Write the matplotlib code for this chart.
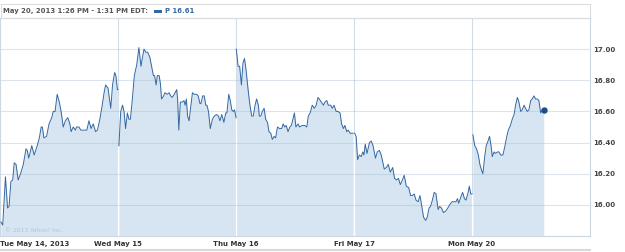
import matplotlib
matplotlib.use('Agg')
import matplotlib.pyplot as plt
from matplotlib.patches import Rectangle
from matplotlib.lines import Line2D
from matplotlib.transforms import ScaledTranslation
import numpy as np

# minutes after the 9:30 open, and price, for each trading day
tue_minutes = [3, 9, 18, 25, 30, 36, 42, 47, 53, 60, 68, 77, 86, 90, 95, 105, 113, 123, 130, 136,
               140, 145, 154, 162, 171, 176, 182, 189, 196, 202, 209, 216, 224, 231, 235, 242, 249, 253,
               261, 267, 275, 287, 294, 301, 308, 316, 322, 330, 337, 344, 349, 357, 366, 372, 379, 383,
               388, 390]
tue_prices = [15.89, 15.87, 16.18, 15.98, 15.99, 16.15, 16.16, 16.27, 16.26, 16.16, 16.20, 16.26, 16.36,
              16.35, 16.30, 16.38, 16.32, 16.38, 16.43, 16.50, 16.50, 16.43, 16.44, 16.52, 16.56, 16.60,
              16.60, 16.71, 16.66, 16.60, 16.50, 16.54, 16.56, 16.52, 16.47, 16.50, 16.48, 16.50, 16.50,
              16.48, 16.48, 16.48, 16.54, 16.49, 16.52, 16.47, 16.48, 16.55, 16.63, 16.72, 16.77, 16.75,
              16.62, 16.77, 16.85, 16.83, 16.74, 16.74]

wed_minutes = [3, 9, 15, 20, 25, 31, 36, 41, 47, 54, 62, 69, 76, 82, 86, 92, 98, 105, 111, 117,
               121, 126, 130, 136, 140, 144, 151, 155, 163, 169, 174, 179, 186, 194, 197, 201, 206, 213,
               218, 222, 226, 230, 235, 241, 246, 252, 260, 265, 271, 274, 280, 285, 290, 294, 299, 305,
               312, 318, 326, 332, 337, 343, 350, 356, 360, 366, 371, 376, 381, 385, 390]
wed_prices = [16.38, 16.60, 16.64, 16.60, 16.49, 16.59, 16.55, 16.55, 16.67, 16.83, 16.90, 17.01, 16.89,
              16.96, 17.00, 16.98, 16.98, 16.95, 16.89, 16.83, 16.83, 16.77, 16.83, 16.83, 16.78, 16.68,
              16.70, 16.72, 16.71, 16.72, 16.70, 16.69, 16.71, 16.74, 16.68, 16.48, 16.66, 16.66, 16.67,
              16.64, 16.68, 16.57, 16.54, 16.64, 16.72, 16.71, 16.71, 16.70, 16.65, 16.65, 16.70, 16.70,
              16.64, 16.64, 16.60, 16.49, 16.55, 16.57, 16.58, 16.57, 16.54, 16.58, 16.53, 16.59, 16.59,
              16.71, 16.67, 16.61, 16.60, 16.61, 16.56]

thu_minutes = [1, 7, 12, 18, 23, 28, 33, 40, 46, 52, 57, 63, 68, 74, 77, 82, 87, 93, 98, 104,
               109, 115, 120, 126, 131, 137, 144, 151, 156, 161, 166, 172, 178, 183, 187, 193, 198, 205,
               210, 219, 227, 234, 239, 245, 252, 259, 265, 271, 275, 282, 289, 294, 300, 305, 313, 318,
               324, 331, 337, 344, 349, 355, 360, 366, 371, 377, 381, 387]
thu_prices = [17.00, 16.89, 16.89, 16.77, 16.91, 16.94, 16.87, 16.74, 16.64, 16.57, 16.57, 16.64, 16.68,
              16.64, 16.57, 16.57, 16.60, 16.62, 16.55, 16.53, 16.47, 16.46, 16.42, 16.44, 16.43, 16.50,
              16.49, 16.49, 16.52, 16.50, 16.51, 16.47, 16.50, 16.51, 16.54, 16.59, 16.50, 16.52, 16.50,
              16.51, 16.51, 16.50, 16.57, 16.59, 16.64, 16.62, 16.64, 16.69, 16.68, 16.66, 16.64, 16.66,
              16.67, 16.64, 16.64, 16.62, 16.64, 16.60, 16.60, 16.59, 16.52, 16.49, 16.51, 16.47, 16.48,
              16.46, 16.46, 16.46]

fri_minutes = [2, 7, 12, 18, 24, 29, 33, 37, 43, 51, 57, 63, 71, 77, 84, 90, 100, 107, 113, 120,
               128, 134, 141, 147, 153, 160, 166, 173, 181, 187, 193, 199, 205, 212, 218, 225, 230, 237,
               242, 248, 253, 259, 265, 271, 278, 283, 289, 296, 303, 310, 316, 324, 331, 337, 342, 346,
               353, 359, 365, 370, 376, 381, 386, 390]
fri_prices = [16.46, 16.44, 16.29, 16.32, 16.31, 16.34, 16.32, 16.39, 16.33, 16.40, 16.41, 16.38, 16.30,
              16.34, 16.35, 16.32, 16.23, 16.24, 16.26, 16.21, 16.24, 16.17, 16.16, 16.17, 16.13, 16.16,
              16.19, 16.12, 16.11, 16.06, 16.06, 16.07, 16.03, 16.02, 16.06, 15.98, 15.92, 15.90, 15.92,
              15.98, 15.99, 16.03, 16.08, 16.07, 15.97, 15.99, 15.98, 15.95, 15.96, 15.98, 16.00, 16.02,
              16.02, 16.02, 16.04, 16.01, 16.05, 16.08, 16.04, 16.03, 16.07, 16.12, 16.07, 16.07]

mon_minutes = [3, 9, 15, 21, 26, 32, 36, 42, 47, 53, 58, 63, 67, 73, 78, 84, 89, 95, 102, 108,
               115, 120, 127, 133, 139, 144, 150, 155, 161, 166, 172, 177, 183, 188, 194, 199, 205, 210,
               216, 221, 227, 232, 237]
mon_prices = [16.45, 16.38, 16.36, 16.32, 16.26, 16.22, 16.20, 16.31, 16.38, 16.41, 16.44, 16.38, 16.31,
              16.34, 16.33, 16.34, 16.34, 16.32, 16.32, 16.37, 16.44, 16.48, 16.51, 16.55, 16.58, 16.64,
              16.69, 16.66, 16.60, 16.61, 16.64, 16.62, 16.60, 16.61, 16.67, 16.68, 16.70, 16.68, 16.68,
              16.67, 16.59, 16.61, 16.61]

day_labels = ['Tue May 14, 2013', 'Wed May 15', 'Thu May 16', 'Fri May 17', 'Mon May 20']
price_ticks = [16.00, 16.20, 16.40, 16.60, 16.80, 17.00]
header = 'May 20, 2013 1:26 PM - 1:31 PM EDT:'

days = [(tue_minutes, tue_prices), (wed_minutes, wed_prices), (thu_minutes, thu_prices),
        (fri_minutes, fri_prices), (mon_minutes, mon_prices)]

line_color = '#3467a0'
fill_color = '#d6e5f1'
ymin, ymax = 15.80, 17.20

W, H = 625, 252
fig = plt.figure(figsize=(W / 100, H / 100), dpi=100)
ax = fig.add_axes([0 / W, 16 / H, 590 / W, 218 / H])

for i, (mins, prices) in enumerate(days):
    x = i + np.array(mins) / 390.0
    ax.fill_between(x, prices, ymin, color=fill_color, lw=0, zorder=1)
    ax.plot(x, prices, color=line_color, lw=0.7, zorder=3)
    if i > 0:
        prev = days[i - 1][1]
        ax.axvline(i, color='#d3dde6', lw=0.8, zorder=0.5)
        ax.vlines(i, ymin, min(prev[-1], prices[0]), color='white', lw=0.9, zorder=1.5)

last_x = len(days) - 1 + mon_minutes[-1] / 390.0
ax.plot(last_x, mon_prices[-1], 'o', ms=3.6, color='#1d4f84', zorder=4)

for v in price_ticks:
    ax.axhline(v, color='#9fb3c6', alpha=0.35, lw=0.8, zorder=2)

ax.set_xlim(0, 5)
ax.set_ylim(ymin, ymax)

ax.set_xticks(range(len(day_labels)))
ax.set_xticklabels(day_labels, fontsize=5, fontweight='bold', color='#333333')
first = ax.get_xticklabels()[0]
first.set_ha('left')
first.set_transform(first.get_transform() + ScaledTranslation(2 / 100, 0, fig.dpi_scale_trans))
ax.yaxis.tick_right()
ax.set_yticks(price_ticks)
ax.set_yticklabels([f'{v:.2f}' for v in price_ticks], fontsize=5, fontweight='bold', color='#444444')
ax.tick_params(axis='x', length=0, pad=3.5)
ax.tick_params(axis='y', length=0, pad=2.5)

for s in ax.spines.values():
    s.set_color('#cdd7e0')
    s.set_linewidth(0.8)

ax.text(5 / 590, 6 / 218, '\u00a9 2013 Yahoo! Inc.', transform=ax.transAxes, fontsize=4.3,
        color='#b5c3d0', va='center', zorder=5)

# header strip
fig.add_artist(Rectangle((0.5 / W, 1 - 18 / H), 589.5 / W, 14 / H, transform=fig.transFigure,
                         fill=False, ec='#dcdcdc', lw=0.8))
fig.text(3 / W, 1 - 11 / H, header, fontsize=4.95, fontweight='bold', color='#555555', va='center')
fig.add_artist(Rectangle((154 / W, 1 - 12.5 / H), 8 / W, 3 / H, transform=fig.transFigure,
                         color=line_color, lw=0))
fig.text(165 / W, 1 - 11 / H, f'P {mon_prices[-1]:.2f}', fontsize=4.95, fontweight='bold',
         color=line_color, va='center')

fig.add_artist(Line2D([0, 590 / W], [1 - 250 / H] * 2, transform=fig.transFigure,
                      color='#d9d9d9', lw=1.5))

fig.savefig('out.png', dpi=100)
plt.close()
